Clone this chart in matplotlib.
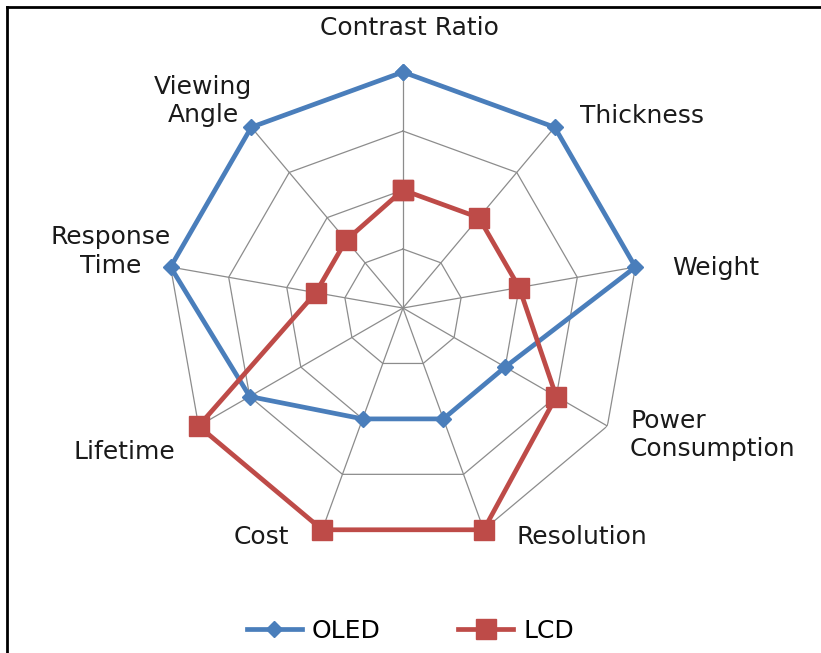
import numpy as np
import matplotlib
matplotlib.use("Agg")
import matplotlib.pyplot as plt
from matplotlib.lines import Line2D

# categories, clockwise from the top
categories = ["Contrast Ratio", "Thickness", "Weight", "Power\nConsumption",
              "Resolution", "Cost", "Lifetime", "Response\nTime", "Viewing\nAngle"]
oled = [4, 4, 4, 2, 2, 2, 3, 4, 4]
lcd = [2, 2, 2, 3, 4, 4, 4, 1.5, 1.5]
rings = [1, 2, 3, 4]

blue = "#4A7EBB"
red = "#BE4B48"
grid_col = "#8C8C8C"

plt.rcParams['font.family'] = ['DejaVu Sans']

fig = plt.figure(figsize=(8.21, 6.53), dpi=100)
ax = fig.add_axes([0.2034, 0.1669, 0.5749, 0.7228], projection='polar')
ax.set_theta_zero_location('N')
ax.set_theta_direction(-1)
ax.set_ylim(0, 4)
ax.grid(False)
ax.spines['polar'].set_visible(False)
ax.set_xticks([])
ax.set_yticks([])
ax.patch.set_visible(False)

n = len(categories)
theta = np.linspace(0, 2 * np.pi, n, endpoint=False)
closed = np.append(theta, theta[0])

# polygon grid
for r in rings:
    ax.plot(closed, [r] * (n + 1), color=grid_col, lw=0.9, zorder=1)
for t in theta:
    ax.plot([t, t], [0, rings[-1]], color=grid_col, lw=0.9, zorder=1)

ax.plot(closed, oled + oled[:1], color=blue, lw=3.4, marker='D', ms=8,
        zorder=3, label="OLED", clip_on=False)
ax.plot(closed, lcd + lcd[:1], color=red, lw=3.4, marker='s', ms=14,
        zorder=4, label="LCD", clip_on=False)

# label anchors (angle in degrees clockwise from top, radius, ha)
label_pos = [(1.4, 4.75, 'center'), (42.7, 4.43, 'left'), (81.5, 4.61, 'left'),
             (119.2, 4.41, 'left'), (153.7, 4.33, 'left'), (206.5, 4.34, 'right'),
             (237.7, 4.57, 'right'), (280.9, 5.04, 'center'), (316.0, 4.88, 'center')]
for lab, (a, r, ha) in zip(categories, label_pos):
    ax.text(np.deg2rad(a), r, lab, ha=ha, va='center', multialignment=ha if ha != 'right' else 'center',
            fontsize=18, color="#1a1a1a", linespacing=1.25)

handles = [Line2D([], [], color=blue, lw=3.4, marker='D', ms=8),
           Line2D([], [], color=red, lw=3.4, marker='s', ms=14)]
fig.legend(handles, ["OLED", "LCD"], loc='center', bbox_to_anchor=(0.5, 1 - 631 / 653),
           ncol=2, frameon=False, fontsize=18, handlelength=2.2, columnspacing=3.1,
           handletextpad=0.4)

# chart-area border (top and left visible)
fig.add_artist(Line2D([7 / 821, 1], [1 - 7 / 653, 1 - 7 / 653], color='black', lw=2))
fig.add_artist(Line2D([7 / 821, 7 / 821], [0, 1 - 7 / 653], color='black', lw=2))

fig.savefig("out.png", dpi=100)
